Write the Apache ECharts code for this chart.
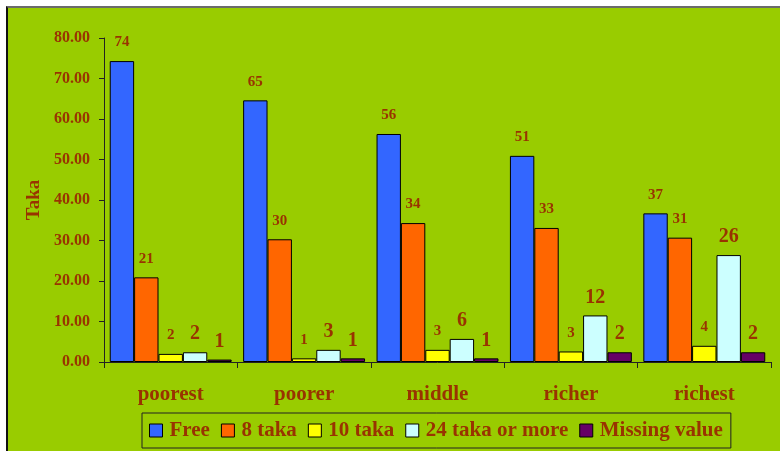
<!DOCTYPE html>
<html>
<head>
<meta charset="utf-8">
<script src="https://cdn.jsdelivr.net/npm/echarts@6/dist/echarts.min.js"></script>
<style>
  html, body { margin: 0; padding: 0; background: #ffffff; width: 780px; height: 451px; overflow: hidden; }
  #frame {
    position: absolute; left: 6px; top: 6px; width: 800px; height: 470px;
    background: #99cc00; border-top: 2px solid #6b6b6b; border-left: 2px solid #111;
  }
  #chart { position: absolute; left: 0; top: 0; width: 780px; height: 451px; }
</style>
</head>
<body>
<div id="frame"></div>
<div id="chart"></div>
<script>
// Quintile groups and fee categories
const categories = ['poorest', 'poorer', 'middle', 'richer', 'richest'];
const seriesNames = ['Free', '8 taka', '10 taka', '24 taka or more', 'Missing value'];

// Shares per group (values labelled rounded to whole numbers)
const free        = [74.3, 64.6, 56.3, 50.9, 36.7];
const taka8       = [20.9, 30.3, 34.3, 33.1, 30.7];
const taka10      = [2.0, 0.9, 3.0, 2.6, 4.0];
const taka24plus  = [2.4, 3.0, 5.7, 11.5, 26.4];
const missing     = [0.6, 0.9, 0.9, 2.4, 2.4];

const yTicks = { min: 0, max: 80, interval: 10 };

const seriesValues = [free, taka8, taka10, taka24plus, missing];
const colors = ['#3366ff', '#ff6600', '#ffff00', '#ccffff', '#660066'];
const labelSizes = [15, 15, 15, 20, 20];
const labelDist = [11, 11, 11, 8, 8];

const textColor = '#993300';
const serif = "'Liberation Serif', 'Times New Roman', serif";

const chart = echarts.init(document.getElementById('chart'), null, { renderer: 'canvas' });

chart.setOption({
  backgroundColor: 'transparent',
  animation: false,
  color: colors,
  grid: { left: 104, right: 9, top: 38, bottom: 89 },
  legend: {
    data: seriesNames,
    left: 142,
    top: 413,
    padding: [7, 8, 7, 7],
    itemGap: 11,
    itemWidth: 13,
    itemHeight: 13,
    borderColor: '#222',
    borderWidth: 1,
    icon: 'rect',
    itemStyle: { borderColor: '#000', borderWidth: 1 },
    textStyle: { color: textColor, fontFamily: serif, fontWeight: 'bold', fontSize: 21, padding: [0, 0, 0, 2] }
  },
  xAxis: {
    type: 'category',
    data: categories,
    axisLine: { lineStyle: { color: '#222', width: 1 } },
    axisTick: { show: true, alignWithLabel: false, length: 6, lineStyle: { color: '#222' } },
    axisLabel: { color: textColor, fontFamily: serif, fontWeight: 'bold', fontSize: 21, margin: 22 }
  },
  yAxis: {
    type: 'value',
    min: yTicks.min,
    max: yTicks.max,
    interval: yTicks.interval,
    name: 'Taka',
    nameLocation: 'middle',
    nameGap: 60,
    nameTextStyle: { color: textColor, fontFamily: serif, fontWeight: 'bold', fontSize: 19 },
    axisLine: { show: true, lineStyle: { color: '#222', width: 1 } },
    axisTick: { show: true, length: 5, lineStyle: { color: '#222' } },
    splitLine: { show: false },
    axisLabel: {
      color: textColor, fontFamily: serif, fontWeight: 'bold', fontSize: 16, margin: 14,
      formatter: v => v.toFixed(2)
    }
  },
  series: seriesValues.map((vals, i) => ({
    name: seriesNames[i],
    type: 'bar',
    data: vals,
    barGap: '0%',
    barCategoryGap: '8.6%',
    itemStyle: { color: colors[i], borderColor: '#000', borderWidth: 1 },
    label: {
      show: true,
      position: 'top',
      distance: labelDist[i],
      color: textColor,
      fontFamily: serif,
      fontWeight: 'bold',
      fontSize: labelSizes[i],
      formatter: p => String(Math.round(p.value))
    }
  }))
});
</script>
</body>
</html>
